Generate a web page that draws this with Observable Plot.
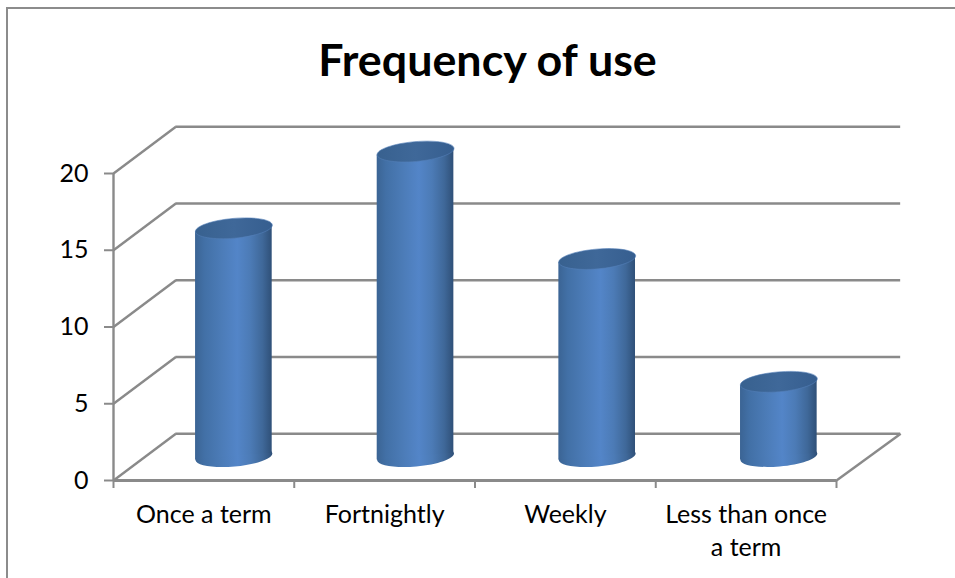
<!DOCTYPE html>
<html>
<head>
<meta charset="utf-8">
<script src="https://cdn.jsdelivr.net/npm/d3@7"></script>
<script src="https://cdn.jsdelivr.net/npm/@observablehq/plot@0.6"></script>
<style>
  html, body { margin: 0; padding: 0; background: #fff; }
  #frame { position: relative; width: 955px; height: 578px; overflow: hidden; font-family: Lato, sans-serif; }
  #border { position: absolute; left: 6px; top: 7px; width: 960px; height: 600px; border: 2px solid #8c8c8c; box-sizing: border-box; }
  #title { position: absolute; left: 0; top: 31px; width: 975px; text-align: center; font-size: 44.8px; line-height: 56px; font-weight: 700; color: #000; }
  #chart { position: absolute; left: 0; top: 0; }
  #chart svg { background: none; }
</style>
</head>
<body>
<div id="frame">
  <div id="border"></div>
  <div id="chart"></div>
  <div id="title">Frequency of use</div>
</div>
<script>
const categories = ["Once a term", "Fortnightly", "Weekly", "Less than once\na term"];
const values = [15, 20, 13, 5];
const yTicks = [0, 5, 10, 15, 20];
const xBoundaries = [0, 1, 2, 3, 4];

// 3D projection expressed in data units
const wallDx = 0.345, wallDy = 3.05;
const cylDx = 0.166, cylDy = 1.43, cylBase = 1.56, cylHalf = 0.212, cylTilt = 0.22, cylStep = 1.005;
const gridColor = "#8a8a8a";
const lineWidth = 2.4;

const rows = categories.map((c, i) => ({c, i, v: values[i], cx: 0.5 + i * cylStep + cylDx}));
const bodyRows = rows.flatMap(d => [
  {i: d.i, x: d.cx - cylHalf, y1: cylBase - cylTilt, y2: d.v + cylDy - cylTilt},
  {i: d.i, x: d.cx + cylHalf, y1: cylBase + cylTilt, y2: d.v + cylDy + cylTilt}
]);

const ellipse = {
  draw(ctx) {
    const a = 38.6, b = 9.9, t = -5 * Math.PI / 180, k = 0.5523;
    const P = (px, py) => [px * Math.cos(t) - py * Math.sin(t), px * Math.sin(t) + py * Math.cos(t)];
    const seg = (c1, c2, e) => ctx.bezierCurveTo(...P(...c1), ...P(...c2), ...P(...e));
    ctx.moveTo(...P(a, 0));
    seg([a, k * b], [k * a, b], [0, b]);
    seg([-k * a, b], [-a, k * b], [-a, 0]);
    seg([-a, -k * b], [-k * a, -b], [0, -b]);
    seg([k * a, -b], [a, -k * b], [a, 0]);
    ctx.closePath();
  }
};

const plot = Plot.plot({
  width: 955, height: 578,
  marginLeft: 113, marginRight: 119, marginTop: 173, marginBottom: 98,
  x: {domain: [0, 4]},
  y: {domain: [0, 20]},
  style: {fontFamily: "Lato, sans-serif", color: "#000", background: "none"},
  marks: [
    // back wall
    Plot.ruleY(yTicks, {y: d => d + wallDy, x1: wallDx, x2: 4 + wallDx + 0.01, stroke: gridColor, strokeWidth: lineWidth, strokeOpacity: 1}),
    // left wall slants
    Plot.link(yTicks, {x1: 0, y1: d => d, x2: wallDx, y2: d => d + wallDy, stroke: gridColor, strokeWidth: lineWidth}),
    // floor right edge
    Plot.link([0], {x1: 4, y1: 0, x2: 4 + wallDx + 0.01, y2: wallDy, stroke: gridColor, strokeWidth: lineWidth}),
    // axes
    Plot.ruleX([0], {y1: 0, y2: 20, stroke: gridColor, strokeWidth: lineWidth, strokeOpacity: 1}),
    Plot.ruleY([0], {x1: 0, x2: 4, stroke: gridColor, strokeWidth: 2.8, strokeOpacity: 1}),
    Plot.axisY({ticks: yTicks, tickSize: 9, tickPadding: 16, fontSize: 25, stroke: gridColor, strokeWidth: 2, strokeOpacity: 1, label: null, fill: "#000"}),
    Plot.axisX({ticks: xBoundaries, tickSize: 8, tickPadding: 0, tickFormat: () => "", stroke: gridColor, strokeWidth: 2, strokeOpacity: 1, label: null}),
    Plot.text(rows, {x: d => d.i + 0.5, y: 0, text: "c", dy: 19, fontSize: 25, lineHeight: 1.32, textAnchor: "middle", lineAnchor: "top", fill: "#000"}),
    // cylinders
    Plot.dot(rows, {x: "cx", y: cylBase, symbol: ellipse, fill: "url(#cyl)", stroke: "none"}),
    Plot.areaY(bodyRows, {x: "x", y1: "y1", y2: "y2", z: "i", fill: "url(#cyl)", stroke: "none", fillOpacity: 1}),
    Plot.dot(rows, {x: "cx", y: d => d.v + cylDy, symbol: ellipse, fill: "url(#cap)", stroke: "#5480b8", strokeWidth: 0.6})
  ]
});

const defs = d3.select(plot).append("defs");
const grad = (id, stops) => {
  const g = defs.append("linearGradient").attr("id", id).attr("x1", "0%").attr("x2", "100%").attr("y1", "0%").attr("y2", "0%");
  stops.forEach(([o, c]) => g.append("stop").attr("offset", o).attr("stop-color", c));
};
grad("cyl", [["0%", "#3b6494"], ["12%", "#4270a6"], ["35%", "#4c7cb8"], ["55%", "#5385c8"], ["72%", "#4c7bb6"], ["88%", "#3f6899"], ["100%", "#2f5078"]]);
grad("cap", [["0%", "#38618f"], ["50%", "#3f6899"], ["100%", "#365e8f"]]);

document.getElementById("chart").appendChild(plot);
</script>
</body>
</html>
